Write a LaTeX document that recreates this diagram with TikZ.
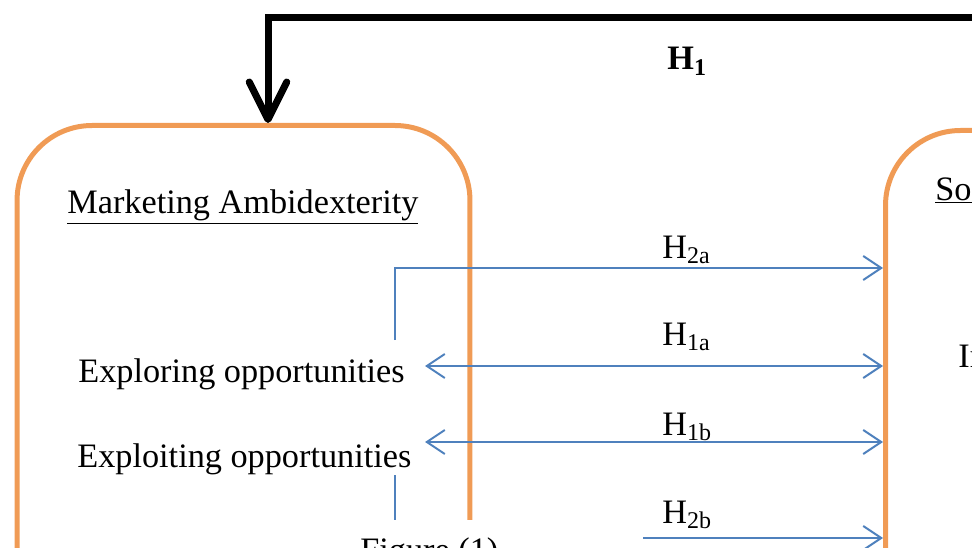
\documentclass[tikz,border=0pt]{standalone}
\usepackage{fontspec}
\setmainfont{Liberation Serif}
\usetikzlibrary{arrows.meta,positioning}
\definecolor{boxorange}{RGB}{240,155,85}
\definecolor{linkblue}{RGB}{79,129,189}
\begin{document}
\begin{tikzpicture}[x=0.02cm,y=-0.02cm,
    box/.style={draw=boxorange,line width=0.1cm,rounded corners=1.5cm,minimum height=16cm},
    txt/.style={font=\fontsize{19.5}{23}\selectfont,inner sep=0pt,anchor=base west},
    link/.style={draw=linkblue,line width=0.04cm,>={Straight Barb[length=0.36cm,width=0.48cm]}},
    fback/.style={line width=0.14cm,-{Straight Barb[length=0.75cm,width=0.75cm,round]}}]
 \useasboundingbox (0,0) rectangle (972,547);
 % the two constructs
 \node[box,anchor=north,minimum width=9.06cm] (mab) at (243.5,123) {};
 \node[box,anchor=north west,minimum width=8cm] (som) at (883,128) {};
 \node[txt] (mabt) at (67,213) {\underline{Marketing Ambidexterity}};
 \node[txt] (somt) at (935,200) {\underline{Soc}};
 \node[txt] (somi) at (958,367) {In};
 \node[txt] (explore) at (78,382) {Exploring opportunities};
 \node[txt] (exploit) at (77,467) {Exploiting opportunities};
 % feedback H1
 \coordinate (h1in) at (1000,18);
 \draw[fback] (h1in) -| ([xshift=0.49cm]mab.north);
 \node[txt] (h1) at (667,70) {\textbf{H\textsubscript{1}}};
 % hypotheses
 \coordinate (ex1) at (425,366);
 \coordinate (ex2) at (425,442);
 \coordinate (v1) at (395,340);
 \coordinate (v2) at (395,475);
 \draw[link,<->] (ex1) -- (ex1 -| som.west);
 \draw[link,<->] (ex2) -- (ex2 -| som.west);
 \draw[link,->] (v1) -- ++(0,-72) coordinate (c2a) -- (c2a -| som.west);
 \draw[link,->] (v2) -- ++(0,63) coordinate (c2b) -- (c2b -| som.west);
 \foreach \lab/\y in {2a/258,1a/345,1b/435,2b/523}
  \node[txt] (h\lab) at (662,\y) {H\textsubscript{\lab}};
 % caption
 \fill[white] (300,520) rectangle (643,580);
 \node[txt] (fig) at (360,561) {Figure (1)};
\end{tikzpicture}
\end{document}
